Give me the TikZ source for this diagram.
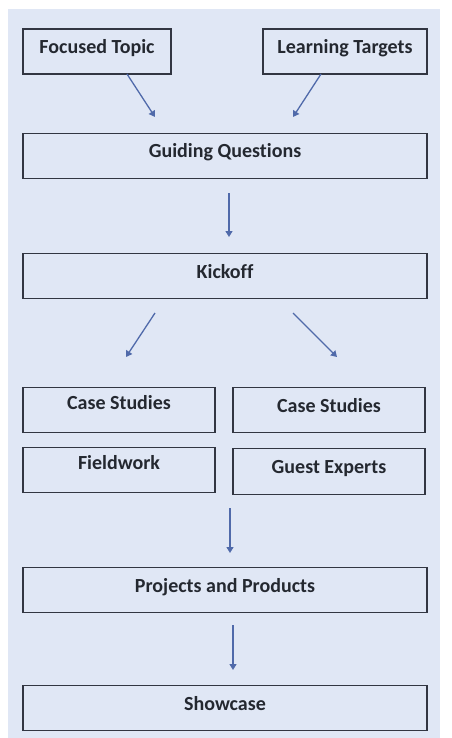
\documentclass[tikz,border=0pt]{standalone}
\usepackage{fontspec}
\setmainfont{Carlito}[Ligatures=NoCommon]
\usepackage{xcolor}
\usetikzlibrary{arrows.meta}

\definecolor{panel}{RGB}{224,231,245}
\definecolor{boxline}{RGB}{50,54,66}
\definecolor{flowblue}{RGB}{80,106,170}
\definecolor{ink}{RGB}{36,40,48}

\begin{document}
\begin{tikzpicture}[x=1pt,y=-1pt]
        \tikzset{box/.style={draw=boxline, line width=1.8pt, fill=panel, text=ink,
            font=\fontsize{20}{23}\selectfont\bfseries, inner sep=0pt,
            minimum height=45pt, text height=13pt, text depth=9pt},
            high/.style={text height=11pt, text depth=13pt},
            flow/.style={draw=flowblue, line width=1.3pt,
            -{Triangle[length=6pt,width=7pt]}}}

        \useasboundingbox (0,0) rectangle (451,738);
        \fill[panel] (8,9) rectangle (440,738);

        \node[box, minimum width=148pt] (topic) at (97,51.5) {Focused Topic};
        \node[box, minimum width=164pt] (targets) at (345,51.5) {Learning Targets};
        \node[box, minimum width=404pt] (guide) at (225,156) {Guiding Questions};
        \node[box, minimum width=404pt] (kickoff) at (225,276) {Kickoff};
        \node[box, high, minimum width=192pt] (casel) at (119,410) {Case Studies};
        \node[box, minimum width=192pt] (caser) at (329,410) {Case Studies};
        \node[box, high, minimum width=192pt] (field) at (119,470) {Fieldwork};
        \node[box, minimum width=192pt, minimum height=46pt] (experts) at (329,471.5) {Guest Experts};
        \node[box, minimum width=404pt] (products) at (225,590) {Projects and Products};
        \node[box, minimum width=404pt] (show) at (225,708) {Showcase};

        \coordinate (t1) at (127,74);  \coordinate (h1) at (155,117);
        \coordinate (t2) at (321,74);  \coordinate (h2) at (293,117);
        \coordinate (t3) at (229,193); \coordinate (h3) at (229,237);
        \coordinate (t4) at (155,313); \coordinate (h4) at (126,357);
        \coordinate (t5) at (293,313); \coordinate (h5) at (337,357);
        \coordinate (t6) at (230,508); \coordinate (h6) at (230,553);
        \coordinate (t7) at (233,625); \coordinate (h7) at (233,670);

        \foreach \s/\e in {t1/h1, t2/h2, t3/h3, t4/h4, t5/h5, t6/h6, t7/h7}
            \draw[flow] (\s) -- (\e);

    \end{tikzpicture}
\end{document}
